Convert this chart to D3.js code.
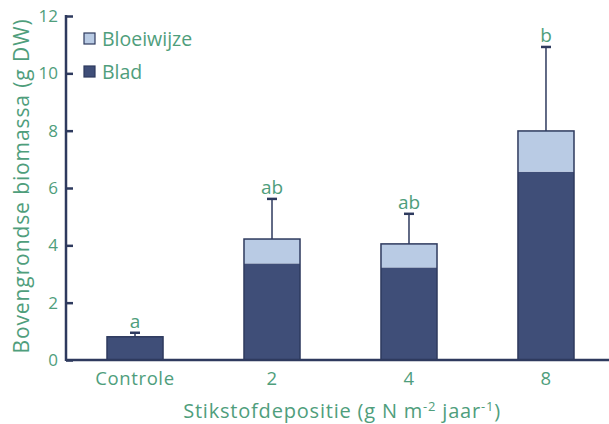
<!DOCTYPE html>
<html><head><meta charset="utf-8">
<script src="https://cdn.jsdelivr.net/npm/d3@7"></script>
<style>body{margin:0;background:#fff}svg{display:block}text{font-family:"Open Sans",Lato,sans-serif}</style>
</head><body><div id="c"></div>
<script>
const categories = ["Controle","2","4","8"];
const blad = [0.81, 3.37, 3.23, 6.57];
const bloeiwijze = [0, 0.85, 0.82, 1.42];
const errorTop = [0.95, 5.62, 5.1, 10.92];
const letters = ["a","ab","ab","b"];
const yTicks = [0,2,4,6,8,10,12];
const seriesNames = ["Bloeiwijze","Blad"];

const W=609,H=424;
const green="#4f9e7c", dark="#3f4e78", light="#b9cbe4", line="#2e3a5e";
const svg=d3.select("#c").append("svg").attr("width",W).attr("height",H);
const x0=66, y0=360, y12=16;
const y=d3.scaleLinear().domain([0,12]).range([y0,y12]);
const x=d3.scaleBand().domain(categories).range([107,574]).paddingInner(0.591).paddingOuter(0);

// axes
const ya=svg.append("g").attr("transform",`translate(${x0},0)`).call(d3.axisRight(y).tickValues(yTicks).tickSize(7).tickFormat(""));
ya.select(".domain").remove();
ya.selectAll("line").attr("stroke",line).attr("stroke-width",2.5);
svg.append("line").attr("x1",x0).attr("x2",x0).attr("y1",y12-1).attr("y2",y0+1).attr("stroke",line).attr("stroke-width",2.5);
svg.selectAll(".yl").data(yTicks).join("text").attr("x",x0-8).attr("y",d=>y(d)+6)
  .attr("text-anchor","end").attr("fill",green).attr("font-size",17).text(d=>d);

const stacked = categories.map((c,i)=>({c,blad:blad[i],bl:bloeiwijze[i],err:errorTop[i],lab:letters[i]}));
// error bars
const g=svg.append("g");
stacked.forEach(d=>{
  const cx=x(d.c)+x.bandwidth()/2;
  const top=d.blad+d.bl;
  g.append("line").attr("x1",cx).attr("x2",cx).attr("y1",y(top)).attr("y2",y(d.err)).attr("stroke",line).attr("stroke-width",1.5);
  g.append("line").attr("x1",cx-5).attr("x2",cx+5).attr("y1",y(d.err)).attr("y2",y(d.err)).attr("stroke",line).attr("stroke-width",2.5);
  g.append("text").attr("x",cx).attr("y",y(d.err)-5).attr("text-anchor","middle").attr("fill",green).attr("font-size",19).text(d.lab);
});
// bars
svg.selectAll(".bb").data(stacked).join("rect").attr("x",d=>x(d.c)).attr("width",x.bandwidth())
  .attr("y",d=>y(d.blad)).attr("height",d=>y0-y(d.blad)).attr("fill",dark);
svg.selectAll(".bl").data(stacked.filter(d=>d.bl>0)).join("rect").attr("x",d=>x(d.c)).attr("width",x.bandwidth())
  .attr("y",d=>y(d.blad+d.bl)).attr("height",d=>y(d.blad)-y(d.blad+d.bl)).attr("fill",light);
svg.selectAll(".bo").data(stacked).join("rect").attr("x",d=>x(d.c)).attr("width",x.bandwidth())
  .attr("y",d=>y(d.blad+d.bl)).attr("height",d=>y0-y(d.blad+d.bl)).attr("fill","none").attr("stroke",line).attr("stroke-width",1.5);

// x axis
svg.append("line").attr("x1",x0).attr("x2",W).attr("y1",y0).attr("y2",y0).attr("stroke",line).attr("stroke-width",2.5);
svg.selectAll(".xl").data(categories).join("text").attr("x",d=>x(d)+x.bandwidth()/2).attr("y",385)
  .attr("text-anchor","middle").attr("fill",green).attr("font-size",18.5).attr("letter-spacing",0.6).text(d=>d);

// titles
const xt=svg.append("text").attr("x",342).attr("y",418).attr("text-anchor","middle").attr("fill",green).attr("font-size",20).attr("letter-spacing",0.8);
xt.append("tspan").text("Stikstofdepositie (g N m");
xt.append("tspan").attr("dy",-7).attr("font-size",13).text("-2");
xt.append("tspan").attr("dy",7).text(" jaar");
xt.append("tspan").attr("dy",-7).attr("font-size",13).text("-1");
xt.append("tspan").attr("dy",7).text(")");
svg.append("text").attr("transform","translate(29,186) rotate(-90)").attr("text-anchor","middle").attr("fill",green).attr("font-size",21).attr("letter-spacing",0.9).text("Bovengrondse biomassa (g DW)");

// legend
const lg=svg.selectAll(".lg").data(seriesNames).join("g").attr("transform",(d,i)=>`translate(84,${33+i*33})`);
lg.append("rect").attr("width",11).attr("height",11).attr("fill",(d,i)=>i===0?light:dark).attr("stroke",line).attr("stroke-width",1.2);
lg.append("text").attr("x",18).attr("y",13).attr("fill",green).attr("font-size",19.5).text(d=>d);
</script></body></html>
